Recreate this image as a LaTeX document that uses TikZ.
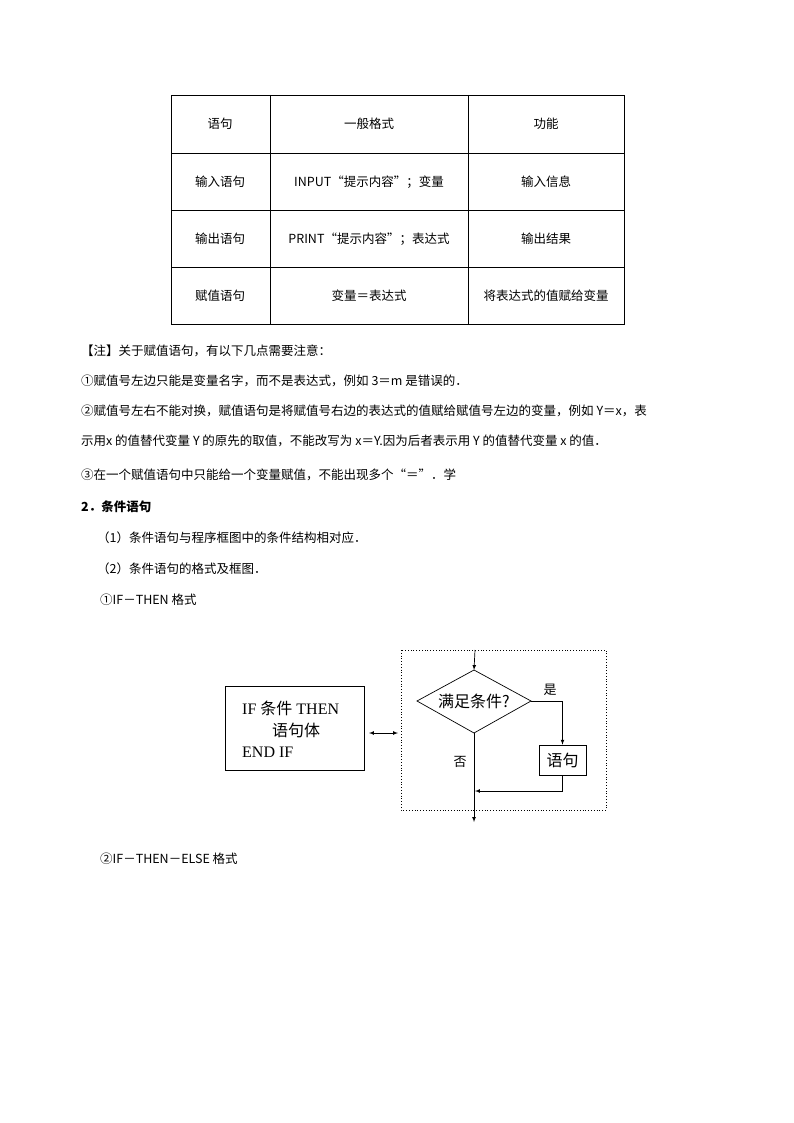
\documentclass[tikz,border=0pt]{standalone}
\usepackage{fontspec}
\setmainfont{Liberation Serif}
\newfontfamily\cjk{Noto Sans CJK SC}
\begin{document}
\begin{tikzpicture}[x=1pt,y=-1pt,
  tx/.style={anchor=west,inner sep=0pt,font=\cjk\fontsize{12.5}{14}\selectfont},
  cell/.style={inner sep=0pt,font=\cjk\fontsize{12.5}{14}\selectfont},
  fc/.style={inner sep=0pt,font=\fontsize{16}{18}\selectfont},
  ln/.style={line width=0.7pt},
  arr/.style={ln,-latex}]
\useasboundingbox (0,0) rectangle (794,1123);
% table
\draw[line width=0.8pt] (171,95) rectangle (624,324);
\foreach \y in {153,210,267} \draw[line width=0.8pt] (171,\y) -- (624,\y);
\foreach \x in {270,468} \draw[line width=0.8pt] (\x,95) -- (\x,324);
\node[cell] (c11) at (220,124) {语句};
\node[cell] (c12) at (369,124) {一般格式};
\node[cell] (c13) at (546,124) {功能};
\node[cell] (c21) at (220,182) {输入语句};
\node[cell] (c22) at (369,182) {INPUT“提示内容”；变量};
\node[cell] (c23) at (546,182) {输入信息};
\node[cell] (c31) at (220,239) {输出语句};
\node[cell] (c32) at (369,239) {PRINT“提示内容”；表达式};
\node[cell] (c33) at (546,239) {输出结果};
\node[cell] (c41) at (220,296) {赋值语句};
\node[cell] (c42) at (369,296) {变量＝表达式};
\node[cell] (c43) at (546,296) {将表达式的值赋给变量};
% notes
\node[tx] (n1) at (81,351) {【注】关于赋值语句，有以下几点需要注意：};
\node[tx] (n2) at (81,381) {①赋值号左边只能是变量名字，而不是表达式，例如 3＝\textit{m} 是错误的．};
\node[tx] (n3) at (81,411) {②赋值号左右不能对换，赋值语句是将赋值号右边的表达式的值赋给赋值号左边的变量，例如 \textit{Y}＝\textit{x}，表};
\node[tx] (n4) at (81,441) {示用\textit{x} 的值替代变量 \textit{Y} 的原先的取值，不能改写为 \textit{x}＝\textit{Y}.因为后者表示用 \textit{Y} 的值替代变量 \textit{x} 的值．};
\node[tx] (n5) at (81,475) {③在一个赋值语句中只能给一个变量赋值，不能出现多个“＝”．学};
\node[tx,font=\cjk\bfseries\fontsize{12.5}{14}\selectfont] (h2) at (81,507) {2．条件语句};
\node[tx] (p1) at (97,538) {（1）条件语句与程序框图中的条件结构相对应．};
\node[tx] (p2) at (97,569) {（2）条件语句的格式及框图．};
\node[tx] (p3) at (100,600) {①IF－THEN 格式};
\node[tx] (p4) at (100,859) {②IF－THEN－ELSE 格式};
% flowchart
\node[draw,ln,minimum width=139pt,minimum height=84pt,inner sep=0pt] (lb) at (294.5,728) {};
\node[fc,anchor=west] (l1) at (242,708) {IF {\cjk 条件} THEN};
\node[fc,anchor=west] (l2) at (272,730) {\cjk 语句体};
\node[fc,anchor=west] (l3) at (242,752) {END IF};
\draw[dotted,line width=0.8pt] (401,650) rectangle (606,810);
\coordinate (lbR) at (369,733);
\coordinate (dbL) at (398,733);
\draw[ln,latex-latex] (lbR) -- (dbL);
\coordinate (top) at (475,650);
\node[draw,ln,shape=rectangle,minimum size=0pt,inner sep=0pt] (dummy) at (0,0) {};
\coordinate (dT) at (474,670);
\coordinate (dB) at (474,733);
\coordinate (dL) at (417,701);
\coordinate (dR) at (531,701);
\draw[ln] (dT) -- (dR) -- (dB) -- (dL) -- cycle;
\node[fc] (cond) at (474,701) {\cjk 满足条件?};
\draw[arr] (top) -- (dT);
\node[draw,ln,minimum width=47pt,minimum height=30pt,inner sep=0pt] (st) at (562.5,760) {};
\node[fc] (stt) at (562.5,760) {\cjk 语句};
\draw[arr] (dR) -| (st.north);
\node[fc,font=\cjk\fontsize{13}{14}\selectfont] (yes) at (550,690) {是};
\node[fc,font=\cjk\fontsize{13}{14}\selectfont] (no) at (460,762) {否};
\coordinate (join) at (475,791);
\draw[arr] (st.south) |- (join);
\coordinate (out) at (474,822);
\draw[arr] (dB) -- (out);
\end{tikzpicture}
\end{document}
